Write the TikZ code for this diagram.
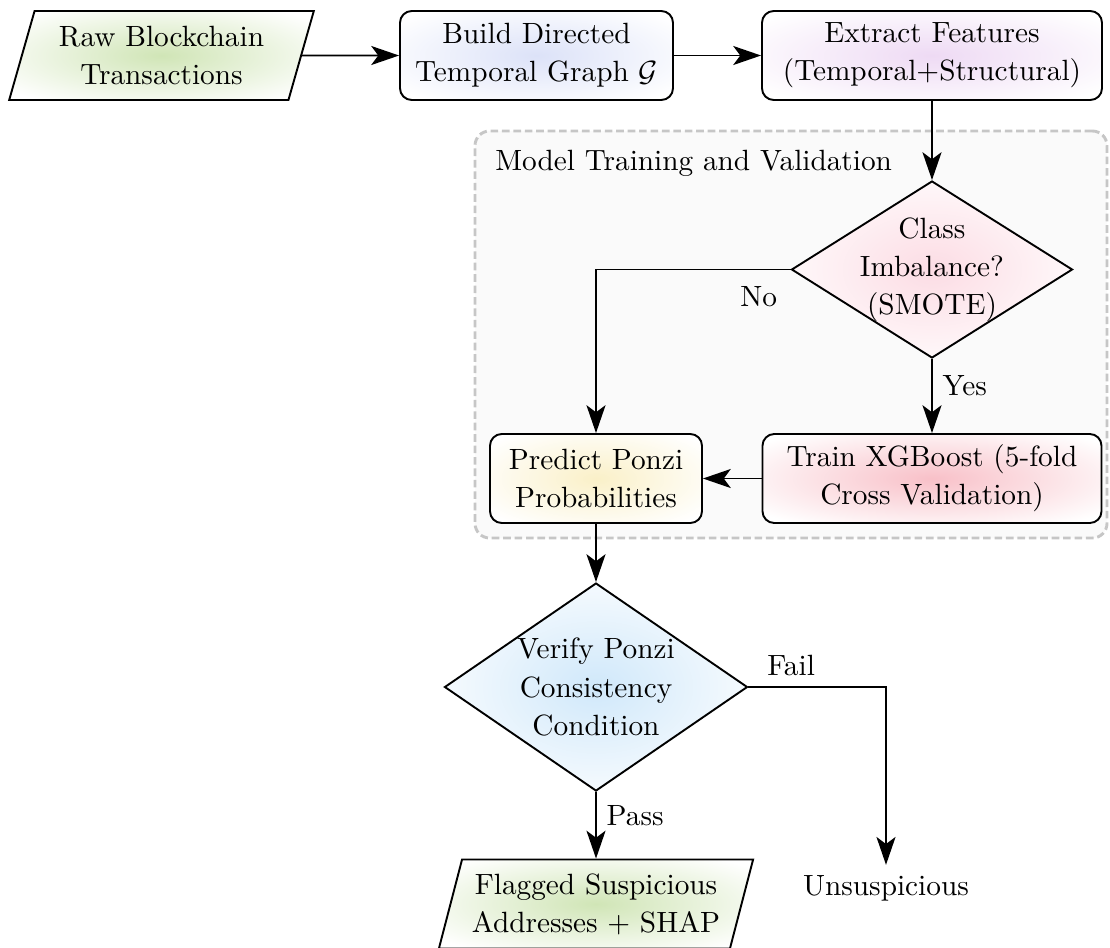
\documentclass[tikz,border=0pt]{standalone}
\usetikzlibrary{shapes.geometric,arrows.meta}
\definecolor{cRaw}{RGB}{208,229,182}
\definecolor{cBuild}{RGB}{220,226,248}
\definecolor{cExtract}{RGB}{238,218,244}
\definecolor{cClass}{RGB}{252,220,228}
\definecolor{cPredict}{RGB}{250,240,200}
\definecolor{cTrain}{RGB}{248,192,200}
\definecolor{cVerify}{RGB}{208,232,250}
\pgfdeclareradialshading{shRaw}{\pgfpoint{0bp}{0bp}}{color(0bp)=(cRaw); color(32bp)=(white); color(50bp)=(white)}
\pgfdeclareradialshading{shBuild}{\pgfpoint{0bp}{0bp}}{color(0bp)=(cBuild); color(32bp)=(white); color(50bp)=(white)}
\pgfdeclareradialshading{shExtract}{\pgfpoint{0bp}{0bp}}{color(0bp)=(cExtract); color(32bp)=(white); color(50bp)=(white)}
\pgfdeclareradialshading{shClass}{\pgfpoint{0bp}{0bp}}{color(0bp)=(cClass); color(32bp)=(white); color(50bp)=(white)}
\pgfdeclareradialshading{shPredict}{\pgfpoint{0bp}{0bp}}{color(0bp)=(cPredict); color(32bp)=(white); color(50bp)=(white)}
\pgfdeclareradialshading{shTrain}{\pgfpoint{0bp}{0bp}}{color(0bp)=(cTrain); color(32bp)=(white); color(50bp)=(white)}
\pgfdeclareradialshading{shVerify}{\pgfpoint{0bp}{0bp}}{color(0bp)=(cVerify); color(32bp)=(white); color(50bp)=(white)}
\def\U{0.3413pt}
\begin{document}
\begin{tikzpicture}[x=0.3413pt,y=-0.3413pt,
  every node/.style={font=\fontsize{10}{13}\selectfont},
  base/.style={draw=black, line width=0.65pt, align=center},
  procbox/.style={base, rectangle, rounded corners=4pt, minimum height=89*\U},
  iobox/.style={base, trapezium, trapezium left angle=74, trapezium right angle=106,
    trapezium stretches=true, minimum width=307*\U, minimum height=89*\U},
  decision/.style={base, diamond},
  conn/.style={draw=black, line width=0.65pt, -{Stealth[length=9.5pt,width=6.5pt,inset=2.4pt]}},
  lbl/.style={font=\fontsize{10}{13}\selectfont},
  groupbox/.style={draw=gray!45, dash pattern=on 2.6pt off 1.3pt, line width=1pt,
    fill=gray!4, rounded corners=5pt, inner sep=0pt}
]
\useasboundingbox (0,0) rectangle (1110,947);

% group container
\node[groupbox, minimum width=632*\U, minimum height=407*\U] (mtv) at (791,334.5) {};
\node[lbl, anchor=west] (mtvlabel) at (485,163) {Model Training and Validation};

% nodes
\node[iobox, shade, shading=shRaw] (raw) at (161.5,55.5) {Raw Blockchain\\Transactions};
\node[procbox, shade, shading=shBuild, minimum width=273*\U] (build) at (536.5,55.5)
  {Build Directed\\Temporal Graph $\mathcal{G}$};
\node[procbox, shade, shading=shExtract, minimum width=340*\U] (extract) at (932,55.5)
  {Extract Features\\(Temporal+Structural)};
\node[decision, shade, shading=shClass, aspect=1.59, inner sep=-3pt,
  minimum width=281*\U, minimum height=177*\U] (class) at (932,269.5)
  {Class\\Imbalance?\\(SMOTE)};
\node[procbox, shade, shading=shPredict, minimum width=212*\U] (predict) at (596,478.5)
  {Predict Ponzi\\Probabilities};
\node[procbox, shade, shading=shTrain, minimum width=339*\U] (train) at (932,478.5)
  {Train XGBoost (5-fold\\Cross Validation)};
\node[decision, shade, shading=shVerify, aspect=1.46, inner sep=-1pt,
  minimum width=303*\U, minimum height=208*\U] (verify) at (596,687)
  {Verify Ponzi\\Consistency\\Condition};
\node[iobox, shade, shading=shRaw] (flagged) at (596,904)
  {Flagged Suspicious\\Addresses + SHAP};
\node[lbl] (unsusp) at (886,888) {Unsuspicious};

% connectors
\draw[conn] (raw) -- (build);
\draw[conn] (build) -- (extract);
\draw[conn] (extract.south) -- (class.north);
\draw[conn] (class.west) -| node[lbl, pos=0.082, below, yshift=-2pt] {No} (predict.north);
\draw[conn] (class.south) -- node[lbl, right, pos=0.36] {Yes} (train.north);
\draw[conn] (train.west) -- (predict.east);
\draw[conn] (predict.south) -- (verify.north);
\draw[conn] (verify.east) -| node[lbl, pos=0.155, above] {Fail} (unsusp.north);
\draw[conn] (verify.south) -- node[lbl, right, pos=0.35] {Pass} (flagged.north);
\end{tikzpicture}
\end{document}
